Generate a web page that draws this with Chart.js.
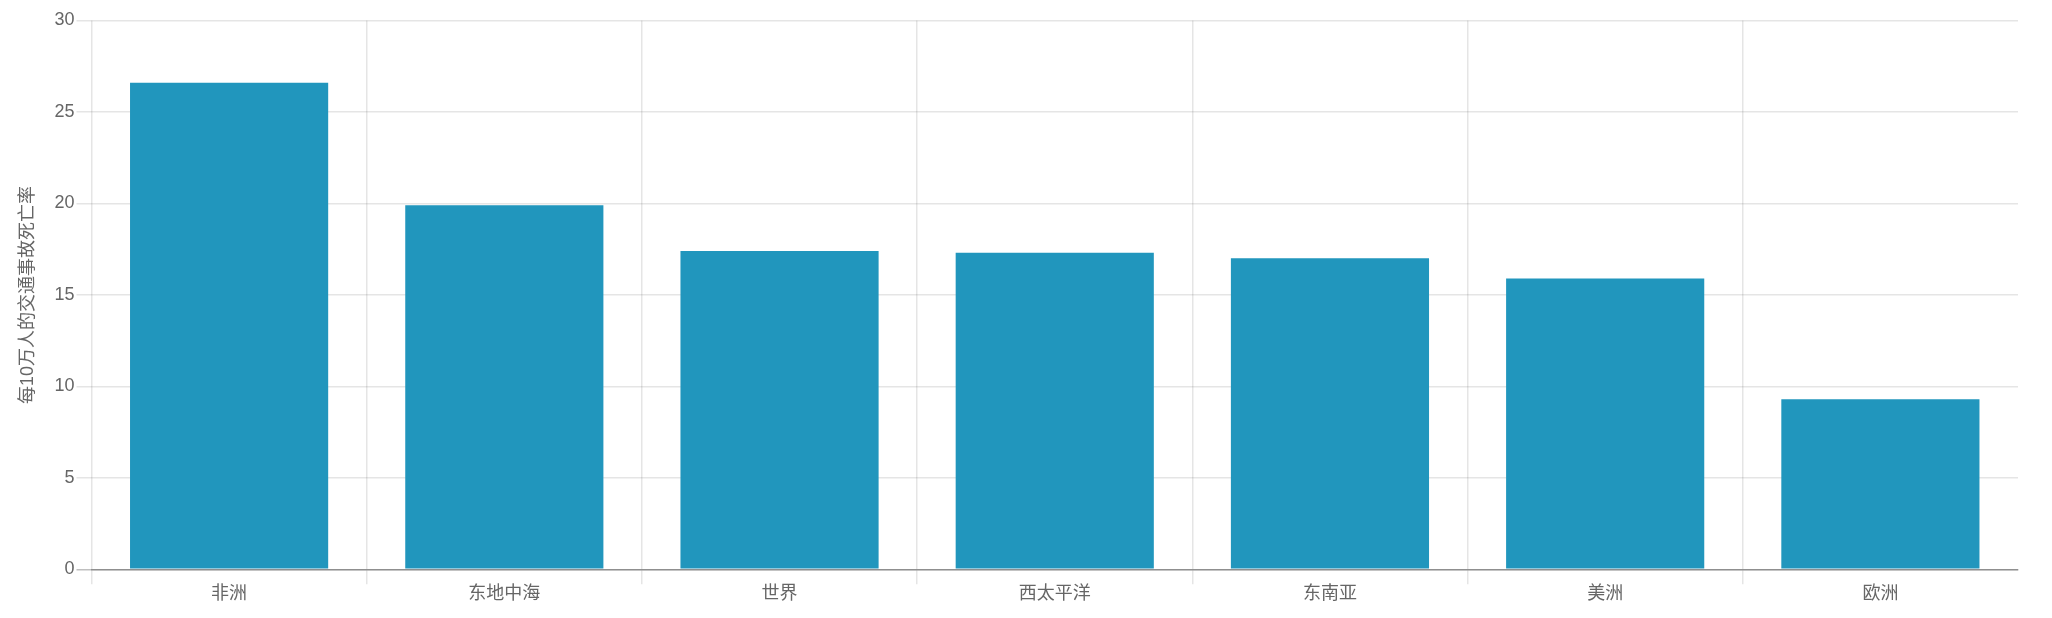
<!DOCTYPE html>
<html><head><meta charset="utf-8">
<script src="https://cdn.jsdelivr.net/npm/chart.js@4/dist/chart.umd.min.js"></script>
<style>html,body{margin:0;padding:0;background:#fff}canvas{display:block}</style>
</head><body>
<canvas id="c" width="2052" height="618"></canvas>
<script>
const categories = ['非洲', '东地中海', '世界', '西太平洋', '东南亚', '美洲', '欧洲'];
const deathRates = [26.6, 19.9, 17.4, 17.3, 17.0, 15.9, 9.3];
const yTickValues = [0, 5, 10, 15, 20, 25, 30];
const yAxisTitle = '每10万人的交通事故死亡率';

const FONT = "'Liberation Sans', Arial, 'Noto Sans CJK SC', sans-serif";
const GRID = 'rgba(0,0,0,0.1)';
const ZERO = 'rgba(0,0,0,0.25)';

const isCategoryLine = (ctx) => ctx && ctx.type === 'tick' && typeof ctx.index === 'number' && ctx.index < categories.length;

new Chart(document.getElementById('c'), {
  type: 'bar',
  data: {
    labels: categories,
    datasets: [{
      data: deathRates,
      backgroundColor: '#2196bd',
      borderWidth: 0,
      barPercentage: 0.9,
      categoryPercentage: 0.8
    }]
  },
  options: {
    responsive: false,
    devicePixelRatio: 1,
    animation: false,
    layout: { padding: { left: 10, top: 20.5, right: 34, bottom: 0 } },
    plugins: { legend: { display: false }, tooltip: { enabled: false } },
    scales: {
      x: {
        offset: true,
        grid: {
          offset: true,
          tickLength: 15,
          lineWidth: (ctx) => (isCategoryLine(ctx) ? 1.5 : 0),
          color: (ctx) => (isCategoryLine(ctx) ? GRID : 'rgba(0,0,0,0)'),
          tickColor: (ctx) => (isCategoryLine(ctx) ? GRID : 'rgba(0,0,0,0)'),
          tickWidth: (ctx) => (isCategoryLine(ctx) ? 1.5 : 0)
        },
        border: { display: true, color: ZERO, width: 1.5 },
        ticks: { color: '#666', padding: -1, font: { family: FONT, size: 18 } },
        afterFit: (s) => { s.height = 48.7; }
      },
      y: {
        min: 0,
        max: 30,
        afterBuildTicks: (s) => { s.ticks = yTickValues.map(v => ({ value: v })); },
        grid: {
          lineWidth: 1.5,
          tickLength: 15,
          color: (ctx) => (ctx.tick && ctx.tick.value === 0 ? ZERO : GRID)
        },
        border: { display: false },
        ticks: { color: '#666', padding: 2, font: { family: FONT, size: 18 } },
        title: {
          display: true,
          text: yAxisTitle,
          color: '#666',
          padding: { top: 7, bottom: 6 },
          font: { family: FONT, size: 18 }
        },
        afterFit: (s) => { s.width = 81.5; }
      }
    }
  }
});
</script>
</body></html>
